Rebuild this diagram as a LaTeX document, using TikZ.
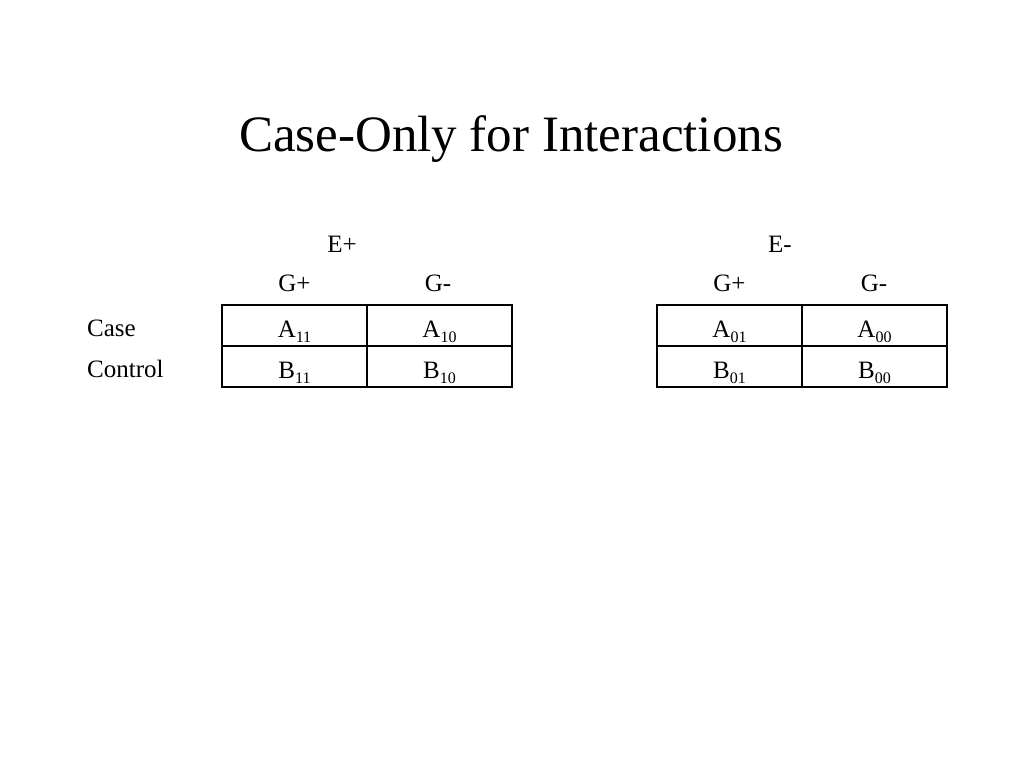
\documentclass[tikz,border=0pt]{standalone}
\usepackage{fontspec}
\setmainfont{Liberation Serif}
\newcommand{\idx}[1]{\raisebox{-5pt}{\fontsize{16}{16}\selectfont #1}}
\tikzset{
  cell/.style={draw, line width=1.2pt, minimum width=145pt, minimum height=41pt, inner sep=0pt, text height=25pt, text depth=2pt, font=\fontsize{25}{30}\selectfont},
  lab/.style={anchor=base, inner sep=0pt, font=\fontsize{25}{30}\selectfont},
}
\begin{document}
\begin{tikzpicture}[x=1pt, y=-1pt]
\useasboundingbox (0,0) rectangle (1024,768);
\node[anchor=base, inner sep=0pt, font=\fontsize{51}{60}\selectfont] (title) at (511,151){Case-Only for Interactions};
% left table, E+
\node[lab] (ep) at (342,252){E+};
\node[lab] (epgp) at (294.5,291){G+};
\node[lab] (epgm) at (438,291){G-};
\node[lab, anchor=base west] (rcase) at (87,336){Case};
\node[lab, anchor=base west] (rctrl) at (87,377){Control};
\node[cell] (a11) at (294.5,325.5){A\idx{11}};
\node[cell] (a10) at (439.5,325.5){A\idx{10}};
\node[cell] (b11) at (294.5,366.5){B\idx{11}};
\node[cell] (b10) at (439.5,366.5){B\idx{10}};
% right table, E-
\node[lab] (em) at (780,252){E-};
\node[lab] (emgp) at (729.5,291){G+};
\node[lab] (emgm) at (874,291){G-};
\node[cell] (a01) at (729.5,325.5){A\idx{01}};
\node[cell] (a00) at (874.5,325.5){A\idx{00}};
\node[cell] (b01) at (729.5,366.5){B\idx{01}};
\node[cell] (b00) at (874.5,366.5){B\idx{00}};
\end{tikzpicture}
\end{document}
